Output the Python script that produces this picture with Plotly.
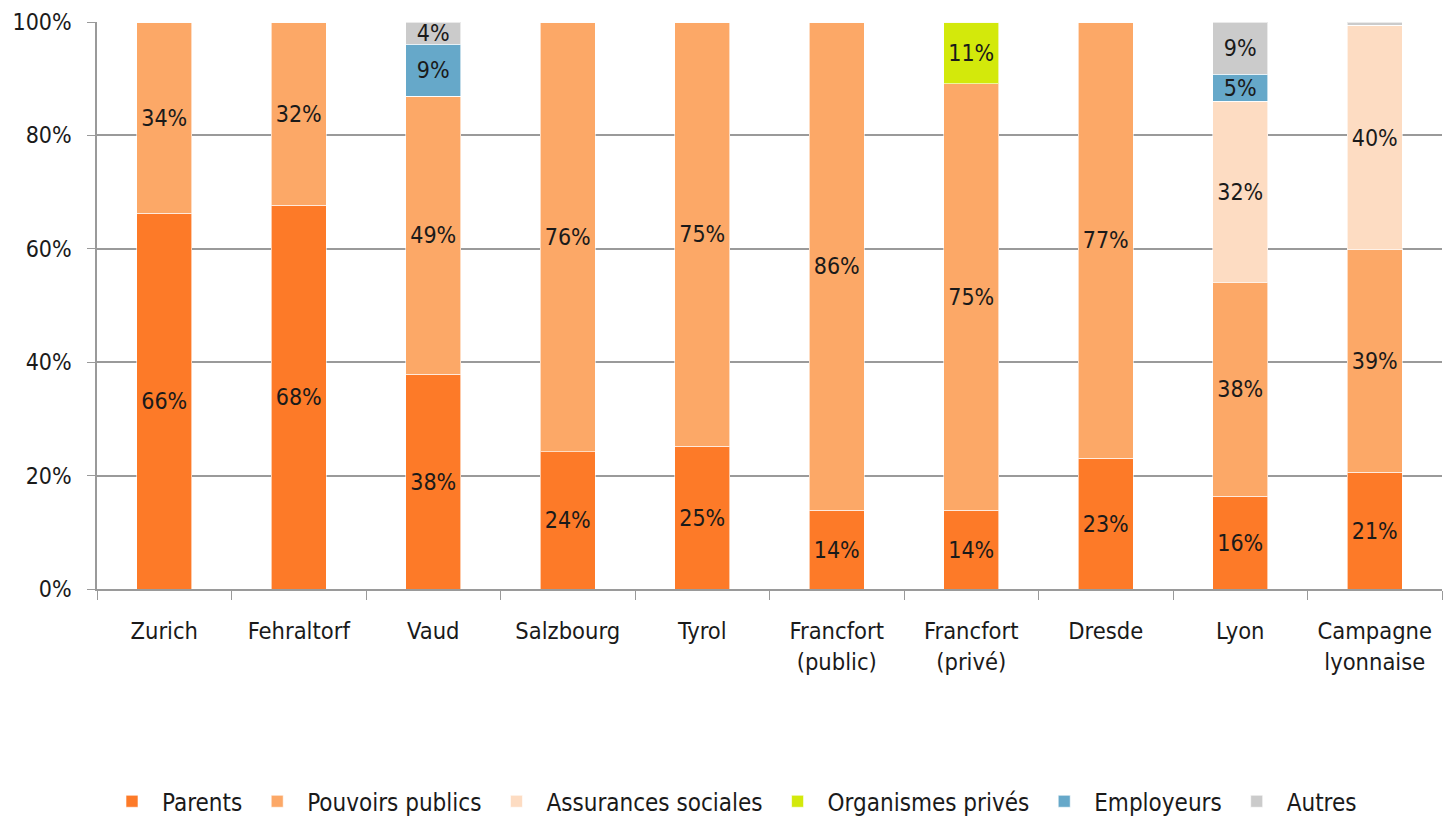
import plotly.graph_objects as go

categories = ["Zurich", "Fehraltorf", "Vaud", "Salzbourg", "Tyrol",
              "Francfort<br>(public)", "Francfort<br>(privé)", "Dresde", "Lyon",
              "Campagne<br>lyonnaise"]

parents = [66.3, 67.7, 37.9, 24.2, 25.2, 13.9, 13.9, 23.1, 16.4, 20.6]
pouvoirs_publics = [33.7, 32.3, 49.0, 75.8, 74.8, 86.1, 75.2, 76.9, 37.6, 39.2]
assurances_sociales = [0, 0, 0, 0, 0, 0, 0, 0, 32.0, 39.6]
organismes_prives = [0, 0, 0, 0, 0, 0, 10.9, 0, 0, 0]
employeurs = [0, 0, 9.2, 0, 0, 0, 0, 0, 4.8, 0]
autres = [0, 0, 3.9, 0, 0, 0, 0, 0, 9.2, 0.6]

series = [
    ("Parents", parents, "#FD7A28"),
    ("Pouvoirs publics", pouvoirs_publics, "#FCA867"),
    ("Assurances sociales", assurances_sociales, "#FDDCC2"),
    ("Organismes privés", organismes_prives, "#D3E90B"),
    ("Employeurs", employeurs, "#66A8C9"),
    ("Autres", autres, "#CBCBCB"),
]

FONT = "DejaVu Sans Condensed, Lato, sans-serif"

fig = go.Figure()
for name, vals, color in series:
    text = [f"{round(v)}%" if v >= 1 else "" for v in vals]
    fig.add_trace(go.Bar(
        name=name, x=categories, y=vals, text=text,
        marker=dict(color=color, line=dict(color="rgba(255,255,255,0.6)", width=1)),
        textposition="inside", insidetextanchor="middle", textangle=0,
        insidetextfont=dict(family=FONT, size=23, color="#1a1a1a"),
        hoverinfo="skip",
    ))

fig.update_layout(
    width=1448, height=814,
    barmode="stack", bargap=0.59,
    plot_bgcolor="white", paper_bgcolor="white",
    margin=dict(l=89, r=14, t=14, b=233, autoexpand=False),
    uniformtext=dict(mode="show", minsize=23),
    font=dict(family=FONT, size=23, color="#1a1a1a"),
    legend=dict(orientation="h", x=0.5, xanchor="center", xref="container",
                y=0.025, yanchor="middle", yref="container",
                font=dict(size=24), traceorder="normal", itemwidth=50),
    showlegend=True,
)
fig.update_xaxes(
    showline=True, linecolor="#9a9a9a", linewidth=1.5,
    ticks="outside", tickson="boundaries", ticklen=9, tickcolor="#9a9a9a",
    tickfont=dict(size=23.5), showgrid=False, automargin=False, ticklabelstandoff=20,
)
fig.update_yaxes(
    range=[0, 100], tickvals=[0, 20, 40, 60, 80, 100],
    ticktext=["0%", "20%", "40%", "60%", "80%", "100%"],
    showline=True, linecolor="#9a9a9a", linewidth=1.5,
    ticks="outside", ticklen=8, tickcolor="#9a9a9a",
    showgrid=True, gridcolor="#9a9a9a", gridwidth=1.5,
    tickfont=dict(size=23), zeroline=False, automargin=False, ticklabelstandoff=11,
)
fig.add_shape(type="line", xref="paper", yref="paper", x0=1.0085, x1=1.0085, y0=-0.42, y1=1.03,
              line=dict(color="#333333", width=2))
fig.write_html("out.html")
